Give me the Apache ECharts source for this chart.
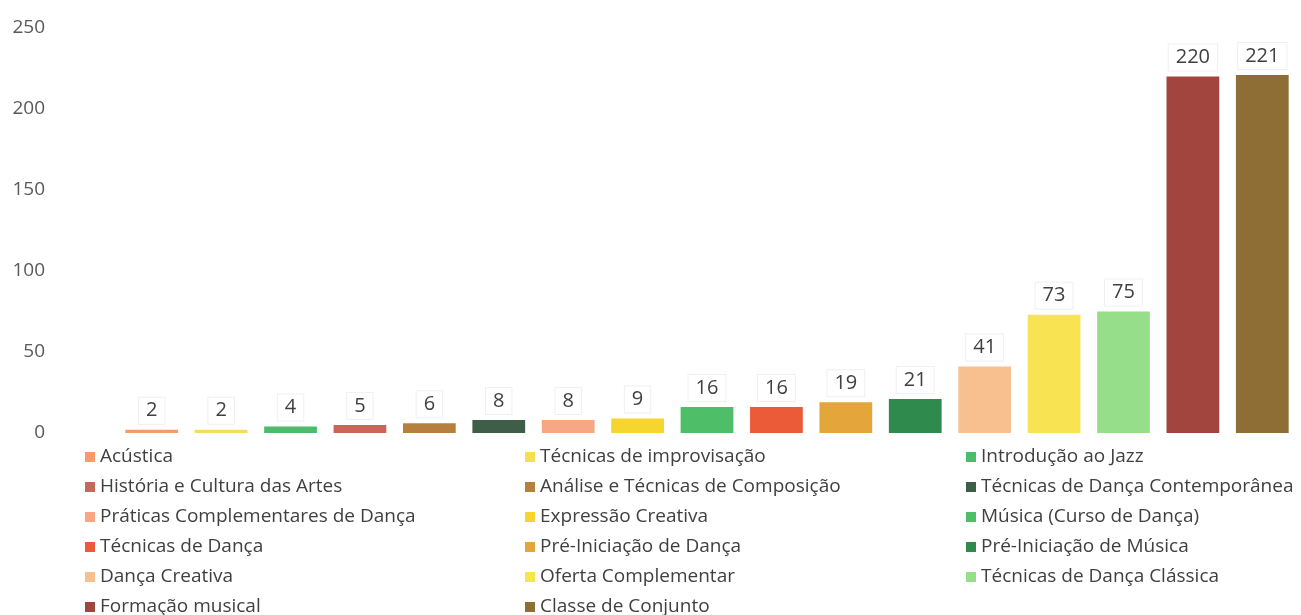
<!DOCTYPE html>
<html>
<head>
<meta charset="utf-8">
<script src="https://cdn.jsdelivr.net/npm/echarts@6/dist/echarts.min.js"></script>
<style>
  html, body { margin: 0; padding: 0; background: #fff; }
  #chart { width: 1301px; height: 615px; }
</style>
</head>
<body>
<div id="chart"></div>
<script>
// disciplinas, ordenadas pelo valor
const categories = [
  'Acústica', 'Técnicas de improvisação', 'Introdução ao Jazz',
  'História e Cultura das Artes', 'Análise e Técnicas de Composição', 'Técnicas de Dança Contemporânea',
  'Práticas Complementares de Dança', 'Expressão Creativa', 'Música (Curso de Dança)',
  'Técnicas de Dança', 'Pré-Iniciação de Dança', 'Pré-Iniciação de Música',
  'Dança Creativa', 'Oferta Complementar', 'Técnicas de Dança Clássica',
  'Formação musical', 'Classe de Conjunto'
]
const values = [2, 2, 4, 5, 6, 8, 8, 9, 16, 16, 19, 21, 41, 73, 75, 220, 221]
const colors = [
  '#F59A6A', '#F6DC5A', '#4DBB6A',
  '#C9665A', '#B5803E', '#3F5E49',
  '#F7A784', '#F6D52E', '#4EBE69',
  '#EC5B37', '#E4A53A', '#2F8A4E',
  '#F8C08E', '#F8E352', '#96DE8A',
  '#A2453E', '#8E6E34'
]
const yTicks = { min: 0, max: 250, interval: 50 }

const FONT = 'Open Sans'

const chart = echarts.init(document.getElementById('chart'))

const series = categories.map((name, i) => ({
  name: name,
  type: 'bar',
  stack: 'all',
  barWidth: '76%',
  itemStyle: { color: colors[i] },
  label: {
    show: true,
    position: 'top',
    distance: 6,
    color: '#404040',
    fontFamily: FONT,
    fontSize: 20,
    backgroundColor: '#fff',
    borderColor: '#f0f0f0',
    borderWidth: 1,
    padding: [3, 7],
    formatter: p => p.value
  },
  data: values.map((v, j) => (j === i ? v : '-'))
}))

// legenda em 3 colunas, lida por linhas
const legendCol = (col, left) => ({
  orient: 'vertical',
  left: left,
  top: 442,
  height: 190,
  icon: 'rect',
  itemWidth: 10,
  itemHeight: 10,
  itemGap: 10,
  selectedMode: false,
  textStyle: { color: '#404040', fontFamily: FONT, fontSize: 19, lineHeight: 20 },
  data: categories.filter((_, i) => i % 3 === col)
})

chart.setOption({
  animation: false,
  grid: { left: 117, right: 4, top: 28, bottom: 182 },
  legend: [legendCol(0, 80), legendCol(1, 520), legendCol(2, 961)],
  xAxis: {
    type: 'category',
    data: categories,
    axisLine: { show: false },
    axisTick: { show: false },
    axisLabel: { show: false }
  },
  yAxis: {
    type: 'value',
    min: yTicks.min,
    max: yTicks.max,
    interval: yTicks.interval,
    splitLine: { show: false },
    axisLabel: {
      color: '#595959',
      fontFamily: FONT,
      fontSize: 19,
      align: 'right',
      margin: 72
    }
  },
  series: series
})
</script>
</body>
</html>
